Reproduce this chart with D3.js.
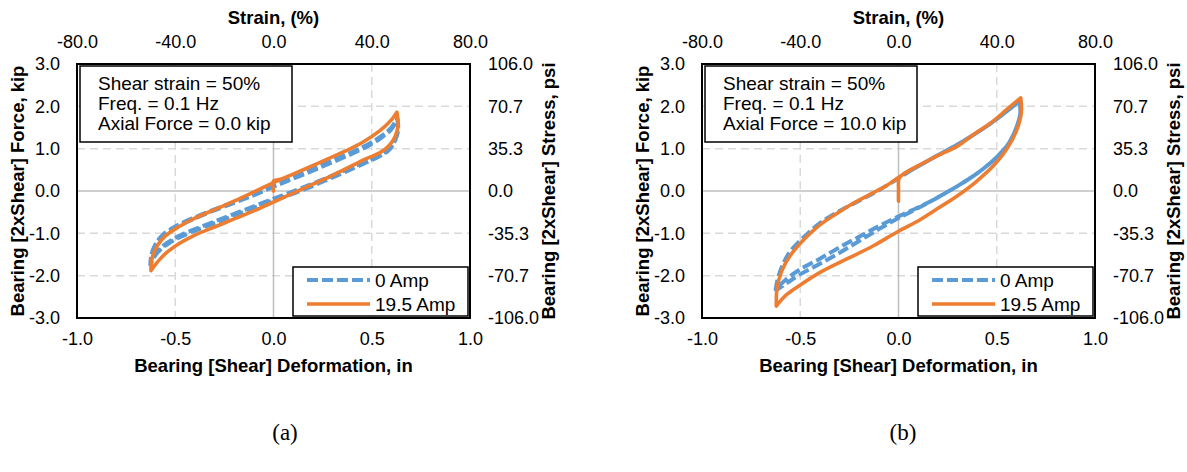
<!DOCTYPE html>
<html><head><meta charset="utf-8">
<script src="https://cdn.jsdelivr.net/npm/d3@7"></script>
<style>body{margin:0;background:#fff}</style>
</head><body>
<svg id="chart" width="1187" height="472"></svg>
<script>
// ---------- tick labels / text ----------
const deformTicks = [-1.0, -0.5, 0.0, 0.5, 1.0];
const strainTicks = [-80, -40, 0, 40, 80];
const forceTicks = [-3, -2, -1, 0, 1, 2, 3];
const stressTicks = [-106.0, -70.7, -35.3, 0.0, 35.3, 70.7, 106.0];
const seriesNames = ["0 Amp", "19.5 Amp"];
const infoA = ["Shear strain = 50%", "Freq. = 0.1 Hz", "Axial Force = 0.0 kip"];
const infoB = ["Shear strain = 50%", "Freq. = 0.1 Hz", "Axial Force = 10.0 kip"];
const panelLabels = ["(a)", "(b)"];
const titleTop = "Strain, (%)";
const titleBottom = "Bearing [Shear] Deformation, in";
const titleLeft = "Bearing [2xShear] Force, kip";
const titleRight = "Bearing [2xShear] Stress, psi";

// ---------- panel (a): axial 0.0 kip  [deformation in, force kip] ----------
const aOrangeStart = [[0, 0.0], [0, 0.24], [0.03, 0.27]];
const aOrangeUpper = [[-0.624,-1.88],[-0.616,-1.55],[-0.59,-1.28],[-0.55,-1.06],[-0.48,-0.84],[-0.40,-0.64],[-0.30,-0.44],[-0.18,-0.2],[-0.08,0.02],[0,0.2],[0.12,0.44],[0.24,0.68],[0.35,0.91],[0.45,1.14],[0.54,1.42],[0.60,1.68],[0.628,1.86]];
const aOrangeLower = [[0.628,1.86],[0.634,1.55],[0.62,1.3],[0.59,1.08],[0.54,0.9],[0.47,0.76],[0.40,0.6],[0.30,0.37],[0.2,0.16],[0.1,-0.05],[0,-0.26],[-0.1,-0.47],[-0.2,-0.66],[-0.3,-0.85],[-0.4,-1.04],[-0.48,-1.24],[-0.54,-1.44],[-0.58,-1.62],[-0.624,-1.88]];
const aBlueUpper = [[-0.627,-1.74],[-0.62,-1.5],[-0.6,-1.25],[-0.56,-1.02],[-0.5,-0.84],[-0.42,-0.66],[-0.32,-0.47],[-0.2,-0.26],[-0.1,-0.08],[0,0.12],[0.1,0.32],[0.2,0.52],[0.3,0.72],[0.4,0.92],[0.48,1.1],[0.55,1.3],[0.6,1.5],[0.63,1.72]];
const aBlueLower = [[0.63,1.72],[0.635,1.45],[0.62,1.2],[0.59,0.98],[0.54,0.82],[0.47,0.67],[0.38,0.48],[0.28,0.28],[0.18,0.08],[0.08,-0.1],[0,-0.22],[-0.1,-0.4],[-0.2,-0.58],[-0.3,-0.76],[-0.4,-0.94],[-0.48,-1.1],[-0.54,-1.26],[-0.59,-1.45],[-0.627,-1.74]];
const aBlueUpper2 = [[-0.627,-1.74],[-0.622,-1.52],[-0.605,-1.3],[-0.57,-1.08],[-0.51,-0.9],[-0.43,-0.71],[-0.33,-0.51],[-0.2,-0.28],[-0.1,-0.1],[0,0.1],[0.1,0.29],[0.2,0.48],[0.3,0.68],[0.4,0.88],[0.48,1.06],[0.55,1.26],[0.6,1.46],[0.63,1.7]];
const aBlueLower2 = [[0.63,1.7],[0.633,1.42],[0.615,1.16],[0.58,0.96],[0.53,0.82],[0.46,0.68],[0.37,0.5],[0.27,0.31],[0.17,0.12],[0.07,-0.06],[0,-0.18],[-0.1,-0.36],[-0.2,-0.54],[-0.3,-0.72],[-0.4,-0.9],[-0.48,-1.06],[-0.54,-1.22],[-0.59,-1.42],[-0.627,-1.74]];

// ---------- panel (b): axial 10.0 kip ----------
const bOrangeStart = [[0,-0.24],[0,0.05],[0.003,0.3],[0.03,0.42],[0.06,0.5]];
const bOrangeUpper = [[-0.622,-2.72],[-0.618,-2.3],[-0.595,-1.9],[-0.55,-1.52],[-0.48,-1.14],[-0.40,-0.8],[-0.31,-0.52],[-0.23,-0.29],[-0.14,-0.07],[-0.06,0.13],[0,0.32],[0.06,0.5],[0.13,0.67],[0.21,0.86],[0.3,1.06],[0.38,1.33],[0.47,1.61],[0.55,1.92],[0.622,2.2]];
const bOrangeLower = [[0.622,2.2],[0.625,1.85],[0.6,1.42],[0.555,1.02],[0.49,0.63],[0.39,0.2],[0.285,-0.16],[0.18,-0.47],[0.11,-0.68],[0,-0.95],[-0.13,-1.3],[-0.26,-1.6],[-0.39,-1.9],[-0.5,-2.22],[-0.57,-2.45],[-0.622,-2.72]];
const bBlueUpper = [[-0.625,-2.33],[-0.615,-2.08],[-0.59,-1.75],[-0.55,-1.42],[-0.48,-1.08],[-0.40,-0.76],[-0.30,-0.47],[-0.2,-0.23],[-0.1,0.02],[0,0.3],[0.06,0.48],[0.13,0.66],[0.21,0.87],[0.3,1.1],[0.38,1.32],[0.47,1.6],[0.55,1.88],[0.615,2.12]];
const bBlueLowerA = [[0.615,2.12],[0.62,1.85],[0.6,1.5],[0.56,1.12],[0.5,0.8],[0.43,0.52],[0.35,0.26],[0.25,-0.02],[0.13,-0.32],[0,-0.6],[-0.1,-0.83],[-0.2,-1.08],[-0.3,-1.33],[-0.4,-1.6],[-0.5,-1.85],[-0.57,-2.08],[-0.625,-2.33]];
const bBlueLowerB = [[0.615,2.12],[0.62,1.85],[0.6,1.5],[0.56,1.12],[0.5,0.8],[0.43,0.52],[0.35,0.26],[0.25,-0.02],[0.13,-0.33],[0,-0.64],[-0.1,-0.9],[-0.2,-1.18],[-0.3,-1.46],[-0.4,-1.72],[-0.5,-1.97],[-0.57,-2.18],[-0.625,-2.35]];

// ---------- styles ----------
const BLUE = "#5B9BD5", ORANGE = "#ED7D31";
const SANS = "'Liberation Sans', Arial, sans-serif";
const SERIF = "'Liberation Serif', 'Times New Roman', serif";
const fmt = v => d3.format(".1f")(v).replace("\u2212", "-");

const svg = d3.select("#chart");

function fromZero(arr) { return arr.filter(d => d[0] > 0.05); }

function drawPanel(p) {
  const x = d3.scaleLinear().domain([-1, 1]).range([p.x0, p.x1]);
  const xs = d3.scaleLinear().domain([-80, 80]).range([p.x0, p.x1]);
  const y = d3.scaleLinear().domain([-3, 3]).range([p.y1, p.y0]);
  const ys = d3.scaleLinear().domain([-106, 106]).range([p.y1, p.y0]);
  const g = svg.append("g");

  // grid
  const grid = g.append("g");
  grid.selectAll(".gx").data(deformTicks.filter(v => Math.abs(v) === 0.5)).join("line")
    .attr("x1", d => x(d)).attr("x2", d => x(d)).attr("y1", p.y0).attr("y2", p.y1)
    .attr("stroke", "#d9d9d9").attr("stroke-width", 1.5).attr("stroke-dasharray", "8,5");
  grid.selectAll(".gy").data(forceTicks.filter(v => v !== 0 && Math.abs(v) !== 3)).join("line")
    .attr("x1", p.x0).attr("x2", p.x1).attr("y1", d => y(d)).attr("y2", d => y(d))
    .attr("stroke", "#d9d9d9").attr("stroke-width", 1.5).attr("stroke-dasharray", "8,5");
  grid.append("line").attr("x1", x(0)).attr("x2", x(0)).attr("y1", p.y0).attr("y2", p.y1)
    .attr("stroke", "#bfbfbf").attr("stroke-width", 1.5);
  grid.append("line").attr("x1", p.x0).attr("x2", p.x1).attr("y1", y(0)).attr("y2", y(0))
    .attr("stroke", "#bfbfbf").attr("stroke-width", 1.5);

  // curves
  const line = d3.line().x(d => x(d[0])).y(d => y(d[1])).curve(d3.curveCatmullRom.alpha(0.5));
  g.append("path").datum(p.blue).attr("d", line).attr("fill", "none")
    .attr("stroke", BLUE).attr("stroke-width", 4).attr("stroke-dasharray", "11,4")
    .attr("stroke-linejoin", "round");
  g.append("path").datum(p.orange).attr("d", line).attr("fill", "none")
    .attr("stroke", ORANGE).attr("stroke-width", 3.6).attr("stroke-linejoin", "round")
    .attr("stroke-linecap", "round");

  // axes
  const styleAxis = sel => {
    sel.select(".domain").remove();
    sel.attr("font-size", null).attr("font-family", null);
    sel.selectAll("text").attr("font-size", 18).attr("font-family", SANS).attr("fill", "#000");
  };
  g.append("g").attr("transform", `translate(0,${p.y1})`)
    .call(d3.axisBottom(x).tickValues(deformTicks).tickSize(0).tickPadding(14).tickFormat(fmt)).call(styleAxis);
  g.append("g").attr("transform", `translate(0,${p.y0})`)
    .call(d3.axisTop(xs).tickValues(strainTicks).tickSize(0).tickPadding(16).tickFormat(fmt)).call(styleAxis);
  g.append("g").attr("transform", `translate(${p.x0},0)`)
    .call(d3.axisLeft(y).tickValues(forceTicks).tickSize(0).tickPadding(17).tickFormat(fmt)).call(styleAxis);
  g.append("g").attr("transform", `translate(${p.x1},0)`)
    .call(d3.axisRight(ys).tickValues(stressTicks).tickSize(0).tickPadding(18).tickFormat(fmt)).call(styleAxis);

  const cx = (p.x0 + p.x1) / 2, cy = (p.y0 + p.y1) / 2;
  const title = (txt) => g.append("text").text(txt).attr("font-family", SANS)
    .attr("font-weight", "bold").attr("font-size", 18.5).attr("text-anchor", "middle").attr("fill", "#000");
  title(titleTop).attr("x", cx).attr("y", 24);
  title(titleBottom).attr("x", cx).attr("y", 372);
  title(titleLeft).attr("transform", `translate(${p.x0 - 59},${cy}) rotate(-90)`).attr("dy", "0.35em");
  title(titleRight).attr("transform", `translate(${p.x1 + 79},${cy}) rotate(-90)`).attr("dy", "0.35em");

  // info box
  g.append("rect").attr("x", p.x0 + 3).attr("y", p.y0 + 2).attr("width", 212).attr("height", 76)
    .attr("fill", "#fff").attr("stroke", "#000").attr("stroke-width", 1.5);
  g.selectAll(".info").data(p.info).join("text").text(d => d)
    .attr("x", p.x0 + 21).attr("y", (d, i) => p.y0 + 26 + i * 20)
    .attr("font-family", SANS).attr("font-size", 19).attr("fill", "#000");

  // legend
  const lx = p.x1 - 177, ly = p.y1 - 51;
  g.append("rect").attr("x", lx).attr("y", ly).attr("width", 175).attr("height", 49)
    .attr("fill", "#fff").attr("stroke", "#000").attr("stroke-width", 1.5);
  const cols = [BLUE, ORANGE];
  seriesNames.forEach((name, i) => {
    const yy = ly + 13 + i * 24;
    g.append("line").attr("x1", lx + 14).attr("x2", lx + 77).attr("y1", yy).attr("y2", yy)
      .attr("stroke", cols[i]).attr("stroke-width", i === 0 ? 4 : 3.6)
      .attr("stroke-dasharray", i === 0 ? "11,4" : null);
    g.append("text").text(name).attr("x", lx + 82).attr("y", yy + 6.5)
      .attr("font-family", SANS).attr("font-size", 19).attr("fill", "#000");
  });

  // border
  g.append("rect").attr("x", p.x0).attr("y", p.y0).attr("width", p.x1 - p.x0).attr("height", p.y1 - p.y0)
    .attr("fill", "none").attr("stroke", "#000").attr("stroke-width", 2);

  // panel label
  g.append("text").text(p.label).attr("x", p.labelX).attr("y", 440).attr("text-anchor", "middle")
    .attr("font-family", SERIF).attr("font-size", 23).attr("fill", "#000");
}

drawPanel({
  x0: 77, x1: 470, y0: 64, y1: 318, info: infoA, label: panelLabels[0], labelX: 285,
  orange: aOrangeStart.concat(fromZero(aOrangeUpper), aOrangeLower, aOrangeUpper),
  blue: fromZero(aBlueUpper).concat(aBlueLower, aBlueUpper2, aBlueLower2, aBlueUpper)
});
drawPanel({
  x0: 702, x1: 1095, y0: 64, y1: 318, info: infoB, label: panelLabels[1], labelX: 903,
  orange: bOrangeStart.concat(fromZero(bOrangeUpper), bOrangeLower, bOrangeUpper),
  blue: fromZero(bBlueUpper).concat(bBlueLowerA, bBlueUpper, bBlueLowerB)
});
</script>
</body></html>
